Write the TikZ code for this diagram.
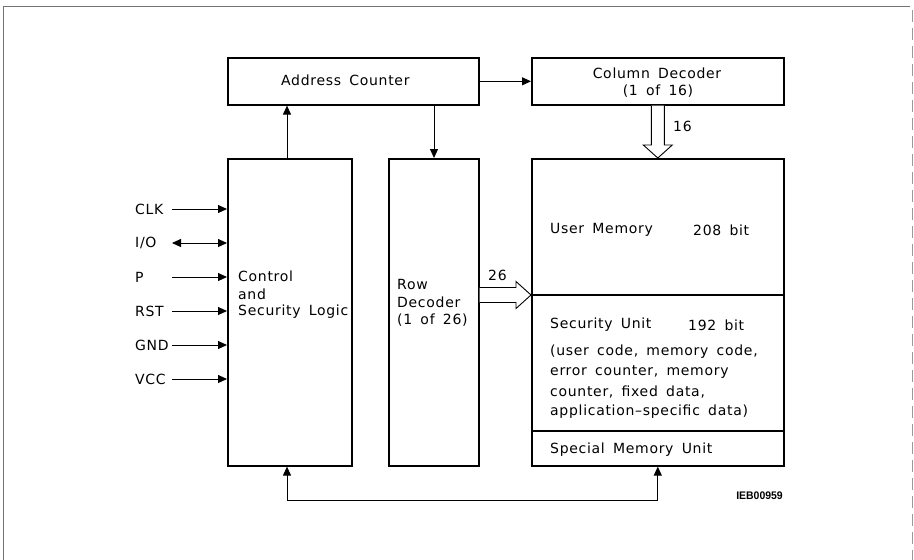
\documentclass[tikz,border=0pt]{standalone}
\usepackage{fontspec}
\setmainfont{DejaVu Sans}[LetterSpace=5,WordSpace=1.6]
\newfontfamily\tagfont{Liberation Sans}[FakeStretch=0.95]
\usetikzlibrary{arrows.meta,calc}

\tikzset{
  block/.style={draw, line width=1.6pt, inner sep=0pt, anchor=north west},
  lbl/.style={anchor=west, inner sep=0pt, font=\fontsize{14}{16}\selectfont},
  ctr/.style={inner sep=0pt, font=\fontsize{14}{16}\selectfont},
  arr/.style={line width=1pt, -{Triangle[length=9pt,width=8pt]}},
  biarr/.style={line width=1pt, {Triangle[length=9pt,width=8pt]}-{Triangle[length=9pt,width=8pt]}},
  hollow/.style={draw, line width=0.9pt, fill=white, line join=miter},
  frame/.style={draw=black!55, line width=0.9pt}
}

\begin{document}
\begin{tikzpicture}[x=1pt, y=-1pt]
  \useasboundingbox (0,0) rectangle (914,560);

  % page frame
  \draw[frame] (3,560) -- (3,6) -- (910,6);
  \draw[frame, draw=black!40, dash pattern=on 12pt off 6pt] (912,10) -- (912,560);

  % blocks
  \node[block, minimum width=251pt, minimum height=47pt] (addr) at (227,57) {};
  \node[block, minimum width=252pt, minimum height=47pt] (coldec) at (531,57) {};
  \node[block, minimum width=124pt, minimum height=307pt] (ctrl) at (227,158) {};
  \node[block, minimum width=90pt, minimum height=307pt] (rowdec) at (388,158) {};
  \node[block, minimum width=252pt, minimum height=307pt] (mem) at (531,158) {};

  % memory partitions
  \coordinate (uw) at (531,295);
  \coordinate (sw) at (531,431);
  \draw[line width=1.3pt] (uw) -- (uw -| mem.east);
  \draw[line width=1.3pt] (sw) -- (sw -| mem.east);

  % block texts
  \node[lbl] (taddr) at (281,80) {Address Counter};
  \node[ctr] (tcol1) at (657,73) {Column Decoder};
  \node[ctr] (tcol2) at (658,91) {(1 of 16)};
  \node[lbl] (tc1) at (238,276) {Control};
  \node[lbl] (tc2) at (238,294) {and};
  \node[lbl] (tc3) at (238,312) {Security Logic};
  \node[lbl] (tr1) at (397,284) {Row};
  \node[lbl] (tr2) at (397,302) {Decoder};
  \node[lbl] (tr3) at (397,320) {(1 of 26)};
  \node[lbl] (tu1) at (550,230) {User Memory};
  \node[lbl] (tu2) at (693,230) {208 bit};
  \node[lbl] (ts1) at (550,325) {Security Unit};
  \node[lbl] (ts2) at (688,325) {192 bit};
  \node[lbl] (ts3) at (550,352) {(user code, memory code,};
  \node[lbl] (ts4) at (550,372) {error counter, memory};
  \node[lbl] (ts5) at (550,392) {counter, fixed data,};
  \node[lbl] (ts6) at (550,412) {application–specific data)};
  \node[lbl] (tsp) at (550,450) {Special Memory Unit};

  % control connections
  \draw[arr] (addr.east) -- (coldec.west);
  \draw[arr] ($(ctrl.north west)+(60,0)$) -- ($(addr.south west)+(60,0)$);
  \draw[arr] ($(addr.south west)+(207,0)$) -- ($(rowdec.north west)+(46,0)$);

  % 16-line bus: column decoder to memory
  \draw[hollow] ($(coldec.south)+(-6.5,0)$) -- ($(mem.north)+(-6.5,-13)$)
    -- ($(mem.north)+(-14.5,-13)$) -- (mem.north) -- ($(mem.north)+(14.5,-13)$)
    -- ($(mem.north)+(6.5,-13)$) -- ($(coldec.south)+(6.5,0)$);
  \node[lbl] (n16) at (673,126) {16};

  % 26-line bus: row decoder to memory
  \draw[hollow] ($(rowdec.east |- uw)+(0,-7.5)$) -- ($(uw)+(-15,-7.5)$)
    -- ($(uw)+(-15,-13.5)$) -- (uw) -- ($(uw)+(-15,13.5)$)
    -- ($(uw)+(-15,7.5)$) -- ($(rowdec.east |- uw)+(0,7.5)$);
  \node[lbl] (n26) at (488,275) {26};

  % pins
  \foreach \name/\txt/\yy in {clk/CLK/209, p/P/277, rst/RST/311, gnd/GND/345, vcc/VCC/379} {
    \node[lbl] (l\name) at (135,\yy) {\txt};
    \coordinate (s\name) at (172,\yy);
  }
  \node[lbl] (lio) at (135,243) {I/O};
  \coordinate (sio) at (172,243);
  \draw[arr] (sclk) -- (sclk -| ctrl.west);
  \draw[biarr] (sio) -- (sio -| ctrl.west);
  \draw[arr] (sp) -- (sp -| ctrl.west);
  \draw[arr] (srst) -- (srst -| ctrl.west);
  \draw[arr] (sgnd) -- (sgnd -| ctrl.west);
  \draw[arr] (svcc) -- (svcc -| ctrl.west);

  % bus between control logic and special memory unit
  \draw[biarr] ($(ctrl.south west)+(60,0)$) |- ($(mem.south)+(0,34)$) -- (mem.south);

  % drawing number
  \node[anchor=east, inner sep=0pt, font=\tagfont\bfseries\fontsize{11}{12}\selectfont] (tag) at (783,496) {IEB00959};
\end{tikzpicture}
\end{document}
